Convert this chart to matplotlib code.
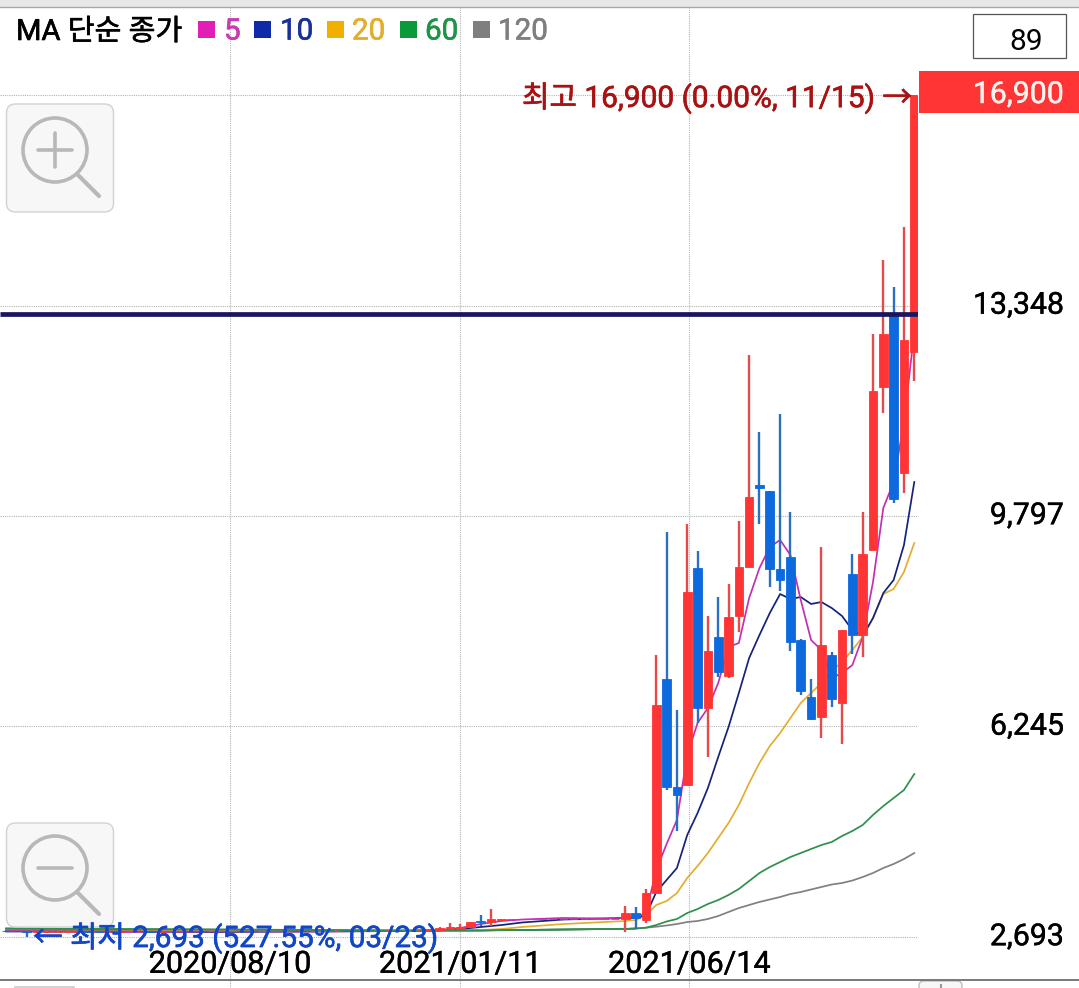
import matplotlib
matplotlib.use("Agg")
import matplotlib.pyplot as plt
import matplotlib.patheffects as pe
from matplotlib.patches import FancyBboxPatch, Circle, Rectangle
from matplotlib.transforms import ScaledTranslation

FONT = ['Roboto', 'Noto Sans CJK KR', 'DejaVu Sans']
plt.rcParams['font.family'] = FONT

# ---------- weekly candles, oldest first (89 bars) ----------
open_ = [2800,2794,2788,2770,2772,2778,2780,2782,2786,2784,
         2782,2784,2788,2790,2786,2784,2786,2788,2790,2788,
         2786,2788,2790,2792,2790,2788,2790,2792,2794,2792,
         2790,2792,2794,2796,2794,2792,2794,2796,2798,2796,
         2796,2800,
         2811,2823,2823,2862,2968,2951,2985,
         3005,3005,3005,3005,3005,3005,3005,3005,3005,3005,3005,
         3002,3093,2980,3441,7046,5229,5258,8914,6552,7750,
         7097,8109,8941,10314,10218,8897,9105,7704,6737,6405,
         7446,6646,8818,7794,9223,11978,13188,10527,12569]
close = [2794,2788,2776,2772,2778,2780,2782,2786,2784,2782,
         2784,2788,2790,2786,2784,2786,2788,2790,2788,2786,
         2788,2790,2792,2790,2788,2790,2792,2794,2792,2790,
         2792,2794,2796,2794,2792,2794,2796,2798,2796,2796,
         2800,2815,
         2845,2867,2857,2941,2941,2992,2997,
         3005,3005,3005,3005,3005,3005,3005,3005,3005,3005,3005,
         3093,3014,3435,6613,5229,5089,8509,6552,7519,7164,
         8087,8936,10117,10274,8902,8722,7665,6849,6376,7615,
         6704,7868,7794,9155,11911,12867,10078,12766,16900]
high = [2806,2800,2794,2782,2786,2788,2790,2794,2794,2790,
        2792,2796,2798,2796,2792,2794,2796,2798,2798,2794,
        2796,2798,2800,2800,2796,2798,2800,2802,2802,2798,
        2800,2802,2804,2804,2800,2802,2804,2806,2806,2804,
        2808,2825,
        2862,2924,2907,2941,3064,3160,2997,
        3005,3005,3005,3005,3005,3005,3005,3005,3005,3005,3005,
        3216,3194,3503,7446,9532,6523,9662,9206,8114,8435,
        8654,9712,12513,11214,10218,11512,9859,7726,7046,9274,
        7502,7873,9155,9859,12867,14116,13665,14673,16900]
low = [2780,2776,2693,2762,2768,2770,2774,2776,2776,2772,
       2776,2778,2782,2778,2776,2778,2780,2782,2780,2778,
       2780,2782,2784,2782,2780,2782,2784,2786,2784,2782,
       2784,2786,2788,2786,2784,2786,2788,2790,2788,2788,
       2792,2796,
       2811,2823,2823,2845,2884,2884,2985,
       3005,3005,3005,3005,3005,3005,3005,3005,3005,3005,3005,
       2777,2833,2934,3441,5173,4487,5258,6304,5725,7085,
       7063,7839,8941,9656,8593,8536,7514,6781,6354,6056,
       6569,5950,7468,7422,9223,11534,10016,10185,12074]

# ---------- moving averages, sampled at these bars ----------
ma_index = [0,10,20,30,38,42,44,46,48,50,54,58,60,61,
            62,63,64,65,66,67,68,69,70,71,72,73,74,75,
            76,77,78,79,80,81,82,83,84,85,86,87,88]
ma5 = [2794,2777,2786,2786,2794,2811,2845,2912,2963,2988,3014,3005,3019,3030,
       3098,3823,4262,4667,5764,6304,6557,6979,7586,7654,8413,8919,9273,9392,
       9138,8379,7704,7536,7063,7147,7282,7755,8683,9932,10370,11383,12901]
ma10 = [2786,2786,2777,2786,2794,2803,2828,2862,2895,2938,2988,3005,3014,3014,
        3064,3452,3655,3857,4414,4785,5207,5730,6236,6810,7401,7789,8160,8480,
        8396,8430,8312,8345,8244,8109,7873,7772,8075,8497,8717,9307,10370]
ma20 = [2803,2794,2794,2794,2794,2794,2803,2811,2828,2862,2912,2946,2963,2980,
        3064,3233,3300,3435,3689,3891,4110,4363,4616,4920,5291,5629,5916,6135,
        6388,6641,6810,6979,7181,7333,7536,7755,8075,8480,8565,8852,9341]
ma60 = [2836,2828,2819,2811,2803,2803,2803,2803,2811,2811,2819,2828,2828,2836,
        2850,2895,2955,2997,3098,3165,3250,3317,3402,3503,3638,3773,3874,3958,
        4043,4110,4178,4245,4296,4397,4482,4583,4752,4903,5038,5173,5443]
ma120 = [2819,2811,2803,2794,2794,2794,2798,2803,2806,2811,2819,2828,2831,2836,
         2850,2867,2887,2912,2946,2963,2997,3047,3115,3182,3233,3284,3326,3368,
         3419,3452,3495,3537,3579,3604,3646,3705,3773,3857,3925,4009,4110]

price_ticks = [2693, 6245, 9797, 13348, 16900]
price_labels = ['2,693', '6,245', '9,797', '13,348', '']
date_positions = [21.7, 44.0, 66.2]
date_labels = ['2020/08/10', '2021/01/11', '2021/06/14']
level_line = 13205

legend_names = ['5', '10', '20', '60', '120']
legend_colors = ['#e01fb4', '#1029a8', '#f0b000', '#0b9a3a', '#7f7f7f']
label_colors = ['#c93bb0', '#17309a', '#e4ae2c', '#1f9447', '#7f7f7f']
line_colors = ['#c52eb0', '#14237a', '#e3ae2e', '#2f8f4e', '#808080']

UP = '#ff3434'
DOWN = '#0c6ade'
UP_WICK = '#e64a4a'
DOWN_WICK = '#2a6fc4'

W, H = 1079, 988
fig = plt.figure(figsize=(W / 100, H / 100), dpi=100, facecolor='white')


def heavy(color, w=0.45):
    return [pe.withStroke(linewidth=w, foreground=color)]


# Price axes: spans 0..918 px horizontally, 7..988 px vertically
ax = fig.add_axes([0, 0, 918 / W, (H - 7) / H])
ax.set_xlim(-0.591, 88.36)
ax.set_ylim(1832.5, 18385)
for s in ax.spines.values():
    s.set_visible(False)
ax.yaxis.tick_right()
ax.set_yticks(price_ticks)
ax.set_yticklabels(price_labels, fontsize=21.8, ha='right', color='black')
ax.tick_params(axis='y', length=0, pad=105)
ax.set_xticks(date_positions)
ax.set_xticklabels(date_labels, fontsize=22, color='black')
ax.tick_params(axis='x', length=0, pad=-27.5)
ax.grid(True, color='#b4b4b4', linestyle=(0, (1, 1)), linewidth=0.8, zorder=0)
ax.set_axisbelow(True)

lift = ScaledTranslation(0, 2 / 72, fig.dpi_scale_trans)
for lab in ax.get_yticklabels():
    lab.set_transform(lab.get_transform() + lift)
    lab.set_path_effects(heavy('black', 0.3))
for lab in ax.get_xticklabels():
    lab.set_path_effects(heavy('black', 0.3))

for vals, col in zip([ma120, ma60, ma20, ma10, ma5], line_colors[::-1]):
    ax.plot(ma_index, vals, color=col, lw=1.25, zorder=2, solid_joinstyle='round')
# early stretch: green runs on top of the bundle
ax.plot(ma_index[:14], ma60[:14], color=line_colors[3], lw=1.25, zorder=2.5)

for i, (o, h, l, c) in enumerate(zip(open_, high, low, close)):
    up = c >= o
    ax.vlines(i, l, h, color=UP_WICK if up else DOWN_WICK, lw=1.7, zorder=3)
    ax.bar(i, abs(c - o), bottom=min(o, c), width=0.84,
           color=UP if up else DOWN, edgecolor=UP if up else DOWN, linewidth=0.6, zorder=4)

ax.hlines(level_line, -0.591, 88.36, color='#1b1560', lw=3.4, zorder=5)

# Overlay in pixel coordinates for the app's interface elements
ui = fig.add_axes([0, 0, 1, 1], facecolor='none')
ui.set_xlim(0, W)
ui.set_ylim(H, 0)
ui.axis('off')

ui.add_patch(Rectangle((0, 0), W, 7, fc='#e8e8e8', ec='none'))
ui.plot([0, W], [7.5, 7.5], color='#a8a8a8', lw=1)
ui.plot([0, W], [980, 980], color='#6e6e6e', lw=1.3)

# Tops of the controls cut off by the lower edge
ui.plot([15, 74], [987.3, 987.3], color='#c8c8c8', lw=1.2)
ui.add_patch(FancyBboxPatch((923, 985), 35, 12, boxstyle='round,pad=4,rounding_size=5',
                            fc='#f7f7f7', ec='#bdbdbd', lw=1))
ui.plot([941, 941], [985, 988], color='#999999', lw=1.5)

# Legend
ui.text(16, 32, 'MA 단순 종가', fontsize=21, va='center', ha='left', color='black',
        path_effects=heavy('black'))
sq_x = [198, 254, 327, 400, 473]
tx_x = [224, 280, 352, 425, 498]
for sx, tx, name, sc, lc in zip(sq_x, tx_x, legend_names, legend_colors, label_colors):
    ui.add_patch(Rectangle((sx, 21), 17, 17, fc=sc, ec='none'))
    ui.text(tx, 31.5, name, fontsize=21.3, va='center', ha='left', color=lc,
            path_effects=heavy(lc))

# Count box
ui.add_patch(Rectangle((973, 14), 93, 44, fc='white', ec='#555555', lw=0.9))
ui.text(1026, 41.5, '89', fontsize=21.5, ha='center', va='center', color='black')

# High marker
ui.add_patch(Rectangle((919, 71), 160, 42, fc=UP, ec='none'))
ui.text(1064, 95, '16,900', fontsize=21.8, ha='right', va='center', color='#fff2ee',
        path_effects=heavy('#fff2ee', 0.3))
ui.text(522, 98, '최고 16,900 (0.00%, 11/15) →', fontsize=21.5, ha='left', va='center',
        color='#a81212', path_effects=heavy('#a81212'))

# Low marker
ui.text(33, 938, '← 최저 2,693 (527.55%, 03/23)', fontsize=21.4, ha='left', va='center',
        color='#1146c8', zorder=9, path_effects=heavy('#1146c8'))

# Zoom buttons
def button(y0, y1, cy, plus):
    ui.add_patch(FancyBboxPatch((6.5 + 8, y0 + 8), 107 - 16, y1 - y0 - 16,
                                boxstyle='round,pad=8,rounding_size=9',
                                fc='#f7f7f7', ec='#d2d2d2', lw=1, zorder=6))
    ui.add_patch(Circle((55, cy), 32, fc='none', ec='#b8b8b8', lw=2.6, zorder=7))
    ui.plot([78, 99], [cy + 25, cy + 46], color='#b8b8b8', lw=3, solid_capstyle='round', zorder=7)
    ui.plot([38, 72], [cy, cy], color='#b8b8b8', lw=2.6, solid_capstyle='round', zorder=7)
    if plus:
        ui.plot([55, 55], [cy - 17, cy + 17], color='#b8b8b8', lw=2.6, solid_capstyle='round', zorder=7)

button(104, 212, 150, True)
button(823, 927, 868, False)

fig.savefig('out.png', dpi=100, facecolor='white')
